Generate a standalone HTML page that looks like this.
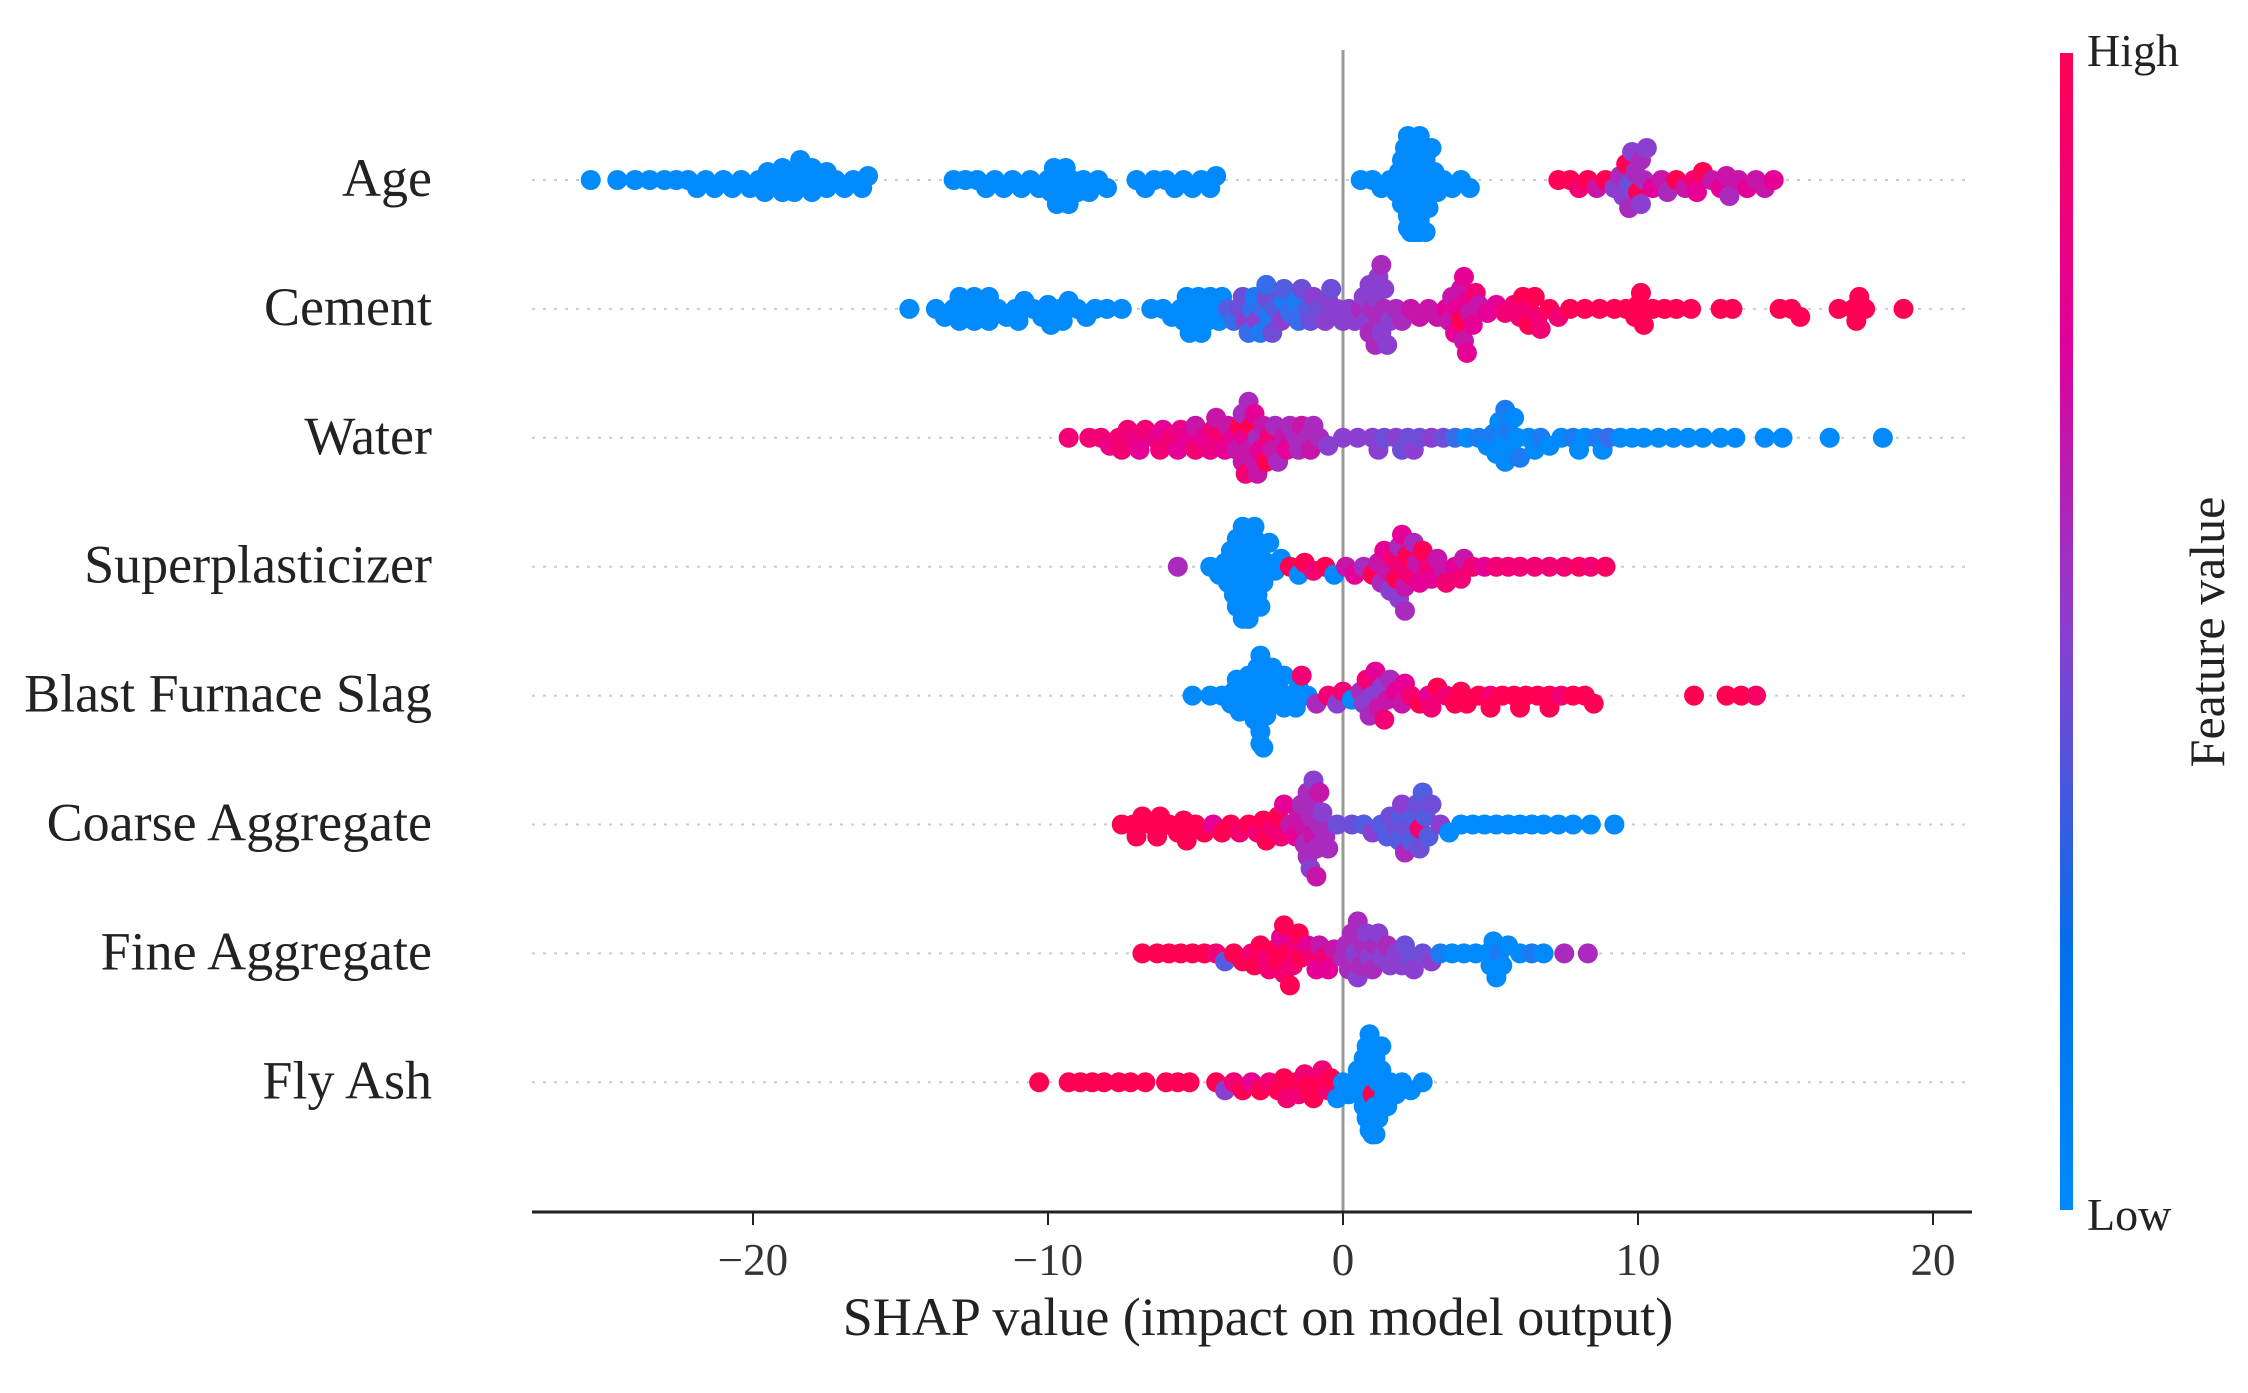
<!DOCTYPE html>
<html><head><meta charset="utf-8"><style>
html,body{margin:0;padding:0;background:#fff;}
svg{display:block;font-family:"Liberation Serif",serif;}
</style></head><body>
<svg id="chart" width="2248" height="1393" viewBox="0 0 2248 1393" xmlns="http://www.w3.org/2000/svg">
<defs><linearGradient id="cbar" x1="0" y1="1" x2="0" y2="0">
<stop offset="0" stop-color="#008afb"/><stop offset="0.22" stop-color="#0070ec"/><stop offset="0.5" stop-color="#8a3fd0"/><stop offset="0.75" stop-color="#e0009a"/><stop offset="1" stop-color="#ff0052"/></linearGradient></defs>
<g id="rows"></g>
<line x1="1343" y1="50" x2="1343" y2="1212" stroke="#999" stroke-width="3"/>
<g id="dots"></g>
<line x1="532" y1="1212" x2="1972" y2="1212" stroke="#222" stroke-width="3"/>
<g id="ticks"></g>
<text x="1258" y="1335" font-size="54" text-anchor="middle" fill="#222">SHAP value (impact on model output)</text>
<rect x="2060" y="53" width="13" height="1157" fill="url(#cbar)"/>
<text x="2087" y="66" font-size="46" fill="#222">High</text>
<text x="2087" y="1230" font-size="46" fill="#222">Low</text>
<text transform="translate(2224,632) rotate(-90)" font-size="50" text-anchor="middle" fill="#222">Feature value</text>
</svg>
<script>
const features = ["Age","Cement","Water","Superplasticizer","Blast Furnace Slag","Coarse Aggregate ","Fine Aggregate","Fly Ash"];
const tickValues = [-20,-10,0,10,20];
const tickLabels = ["\u221220","\u221210","0","10","20"];
// shap values with feature value (0 low .. 1 high), written as "shap:feat"
const ageData = "-25.5:0 -24.6:0 -24:0 -23.5:0 -23:0 -22.6:0 -22.2:0 -21.9:0 -21.6:0 -21.3:0 -21:0 -20.7:0 -20.4:0 -20.1:0 -19.8:0 -19.5:0 -19.2:0 -19:0 -18.8:0 -18.6:0 -18.4:0 -18.2:0 -18:0 -17.8:0 -17.5:0 -17.2:0 -16.9:0 -16.6:0 -16.3:0 -16.1:0 -13.2:0 -12.8:0 -12.4:0 -12.1:0 -11.8:0 -11.5:0 -11.2:0 -10.9:0 -10.6:0 -10.3:0 -10:0 -9.8:0 -9.6:0 -9.5:0 -9.4:0 -9.2:0 -9:0 -8.8:0 -8.6:0 -8.3:0 -8:0 -7:0 -6.7:0 -6.4:0 -6:0 -5.7:0 -5.4:0 -5.1:0 -4.8:0 -4.5:0 -4.3:0 0.6:0 1:0 1.3:0 1.6:0 1.8:0 2:0 2.1:0 2.2:0 2.3:0 2.3:0 2.4:0 2.4:0 2.4:0 2.5:0 2.5:0 2.5:0 2.6:0 2.6:0 2.7:0 2.8:0 2.9:0 3:0 3.2:0 3.4:0 3.7:0 4:0 4.3:0 7.3:1 7.7:1 8:0.9 8.3:1 8.6:0.7 8.9:1 9.2:0.5 9.4:0.6 9.6:1 9.7:0.4 9.8:0.5 10:1 10.1:0.6 10.3:0.5 10.5:0.8 10.8:0.7 11:0.6 11.3:1 11.6:0.7 11.9:0.9 12.2:1 12.5:0.7 12.8:0.8 13.1:0.6 13.4:0.7 13.7:0.8 14:0.7 14.3:0.7 14.6:0.8"
 + " -19:0 -18.5:0 -18:0 -17.5:0 -19.6:0 -9.7:0 -9.3:0 -9.9:0 1.9:0 2:0 2.1:0 2.2:0 2.3:0 2.4:0 2.5:0 2.6:0 2.7:0 2.8:0 2.2:0 2.4:0 2.6:0 2.5:0 2.3:0 2.9:0 3.1:0 9.5:0.5 9.9:0.6 10.1:0.5 9.7:0.6 10.2:0.6 12:0.8 13:0.7";
const cementData = "-14.7:0 -13.8:0 -13.5:0 -13.2:0 -13:0 -12.7:0 -12.5:0 -12.2:0 -12:0 -11.7:0 -11.4:0 -11.1:0 -10.8:0 -10.5:0 -10.2:0 -9.9:0 -9.6:0 -9.3:0 -9:0 -8.7:0 -8.4:0 -8:0 -7.5:0 -6.5:0 -6.1:0 -5.8:0 -5.5:0 -5.3:0 -5.1:0 -4.9:0 -4.7:0 -4.5:0 -4.3:0 -4.1:0 -3.9:0.3 -3.7:0.2 -3.5:0.4 -3.3:0.5 -3.1:0.2 -3:0.1 -2.9:0.5 -2.7:0.2 -2.6:0.4 -2.5:0.1 -2.3:0.3 -2.1:0.5 -2:0.1 -1.8:0.2 -1.6:0.1 -1.4:0.4 -1.2:0.3 -1:0.5 -0.8:0.4 -0.6:0.5 -0.4:0.4 -0.2:0.5 0:0.5 0.2:0.5 0.4:0.5 0.6:0.6 0.8:0.5 1:0.6 1.1:0.5 1.2:0.6 1.3:0.5 1.4:0.6 1.6:0.5 1.8:0.6 2:0.6 2.3:0.7 2.6:0.7 2.9:0.7 3.2:0.7 3.5:0.8 3.7:0.7 3.9:0.8 4:1 4.1:0.7 4.2:0.8 4.4:0.8 4.6:0.7 4.9:0.8 5.2:0.8 5.5:0.9 5.8:0.9 6.1:1 6.3:0.9 6.5:1 6.7:0.9 7:1 7.3:0.9 7.7:1 8.2:1 8.7:1 9.2:1 9.6:1 9.9:1 10:1 10.2:1 10.5:1 10.9:1 11.3:1 11.8:1 12.8:1 13.2:1 14.8:1 15.2:1 15.5:1 16.8:1 17.3:1 17.5:1 17.7:1 19:1"
 + " -13:0 -12.5:0 -12:0 -11:0 -10:0 -9.5:0 -5.4:0 -5:0 -4.6:0 -4.2:0 -5.2:0 -4.8:0 -3.2:0.2 -2.8:0.1 -2.4:0.4 -2:0.3 -1.5:0.2 -1.1:0.4 -2.6:0.2 -3.4:0.4 -0.5:0.5 0.7:0.5 0.9:0.6 1.1:0.6 1.2:0.5 1.3:0.6 1.5:0.5 0.9:0.5 1.4:0.5 3.8:0.8 4:0.7 4.2:0.8 4.3:0.7 4.5:0.9 3.6:0.7 4.1:0.8 6:0.9 6.3:1 6.6:0.9 10.1:1 17.4:1";
const waterData = "-9.3:0.9 -8.6:0.9 -8.2:0.9 -7.9:0.85 -7.6:0.9 -7.3:0.9 -7:0.85 -6.7:0.9 -6.4:0.85 -6.1:0.8 -5.8:0.9 -5.5:0.85 -5.2:0.8 -5:0.9 -4.7:0.8 -4.5:0.85 -4.3:0.7 -4.1:0.9 -3.9:0.7 -3.7:0.8 -3.5:1 -3.4:0.7 -3.3:0.8 -3.2:0.7 -3.1:1 -3:0.7 -2.9:0.6 -2.8:0.8 -2.6:1 -2.4:0.7 -2.2:0.6 -2:0.7 -1.8:0.6 -1.6:0.6 -1.4:0.7 -1.2:0.6 -1:0.6 -0.8:0.6 -0.5:0.5 0:0.5 0.5:0.5 1:0.5 1.4:0.4 1.8:0.5 2.2:0.4 2.6:0.4 3:0.5 3.4:0.4 3.8:0.2 4.2:0 4.6:0.1 4.9:0 5.1:0.1 5.3:0 5.5:0 5.6:0.1 5.8:0 6:0.1 6.3:0 6.7:0.1 7:0 7.4:0 7.8:0.1 8.2:0 8.6:0.1 9:0.2 9.4:0 9.8:0 10.2:0 10.7:0 11.2:0 11.7:0 12.2:0 12.8:0 13.3:0 14.3:0 14.9:0 16.5:0 18.3:0"
 + " -7.5:0.9 -6.9:0.8 -6.2:0.9 -5.6:0.8 -5:0.7 -4.4:0.9 -4:0.8 -3.6:0.7 -3.3:0.9 -3:0.8 -3.2:0.6 -2.7:0.7 -2.5:0.9 -2.3:0.6 -1.9:0.8 -1.5:0.6 -1.1:0.7 -3.4:0.6 -2.9:0.7 1.2:0.5 2:0.4 2.4:0.5 5.2:0 5.4:0 5.7:0 5.9:0 5.5:0.1 6.5:0 8:0 8.8:0";
const superData = "-5.6:0.6 -4.5:0 -4.2:0 -4:0 -3.8:0 -3.7:0 -3.6:0 -3.5:0 -3.4:0 -3.3:0 -3.3:0 -3.2:0 -3.1:0 -3:0 -2.9:0 -2.8:0 -2.7:0 -2.5:0 -2.3:0 -2.1:0 -1.8:1 -1.5:0 -1.3:1 -1:0.9 -0.6:1 -0.3:0 0.1:0.7 0.4:0.8 0.7:0.6 1:1 1.2:0.7 1.4:0.8 1.6:0.5 1.8:1 1.9:0.6 2:0.9 2.1:0.7 2.2:1 2.4:0.6 2.6:0.8 2.9:0.9 3.2:0.7 3.5:0.9 3.8:0.8 4.1:0.7 4.4:0.9 4.8:0.8 5.2:0.9 5.6:0.9 6:0.9 6.5:0.9 7:0.9 7.5:0.9 8:0.95 8.4:0.9 8.9:0.95"
 + " -3.9:0 -3.6:0 -3.4:0 -3.3:0 -3.2:0 -3.1:0 -3:0 -2.8:0 -3.5:0 -3.3:0 -3.2:0 -2.6:0 -2.9:0 -3.7:0 1.5:0.7 1.7:0.9 1.9:0.5 2:0.8 2.1:0.6 2.3:0.9 1.3:0.6 2.5:0.7 2.7:1 3:0.8 3.4:0.7 4:0.9";
const slagData = "-5.1:0 -4.5:0 -4.1:0 -3.8:0 -3.6:0 -3.4:0 -3.2:0 -3:0 -2.9:0 -2.8:0 -2.8:0 -2.7:0 -2.6:0 -2.4:0 -2.2:0 -2:0 -1.8:0 -1.6:0 -1.4:0.9 -1.2:0 -0.9:0.6 -0.5:0.9 -0.2:0.5 0:0.9 0.3:0 0.6:0.6 0.8:0.9 1:0.5 1.2:0.7 1.4:0.9 1.6:0.6 1.8:0.8 2:0.7 2.3:0.9 2.6:1 2.9:0.8 3.2:1 3.5:0.9 3.8:1 4.2:1 4.6:1 5:0.9 5.4:1 5.8:1 6.2:1 6.6:1 7:1 7.4:0.9 7.8:1 8.2:1 8.5:1 11.9:1 13:1 13.5:1 14:0.95"
 + " -3.7:0 -3.3:0 -3.1:0 -2.9:0 -2.8:0 -2.7:0 -2.5:0 -2.3:0 -3:0 -2.6:0 -3.5:0 -2:0 -1.5:0 0.9:0.6 1.1:0.8 1.3:0.5 1.5:0.7 0.7:0.5 2.1:0.8 3:0.9 4:1 5:1 6:1 7:1";
const coarseData = "-7.5:1 -7.1:1 -6.8:1 -6.5:1 -6.2:1 -5.9:1 -5.6:1 -5.3:1 -5:1 -4.7:1 -4.4:0.8 -4.1:1 -3.8:1 -3.5:0.9 -3.2:1 -2.9:0.9 -2.6:1 -2.4:0.9 -2.2:1 -2:0.8 -1.8:0.7 -1.6:0.8 -1.4:0.6 -1.3:0.7 -1.2:0.6 -1.1:0.6 -1:0.7 -0.9:0.6 -0.8:0.6 -0.7:0.5 -0.5:0.6 -0.2:0.4 0.3:0.4 0.7:0.3 1:0.5 1.3:0.3 1.6:0.4 1.9:0.3 2.1:0.6 2.3:0.3 2.5:0.4 2.6:0.9 2.8:0.3 3:0.4 3.3:0.5 3.6:0 4:0 4.4:0 4.8:0 5.2:0 5.6:0 6:0 6.4:0 6.8:0 7.3:0 7.8:0 8.4:0 9.2:0"
 + " -7:1 -6.3:1 -5.4:1 -2.7:1 -2.1:0.9 -1.5:0.7 -1.2:0.6 -1:0.6 -0.9:0.7 -1.1:0.5 -0.8:0.7 -1.3:0.6 -1:0.5 -0.6:0.6 1.8:0.4 2:0.3 2.2:0.4 2.4:0.3 2.6:0.4 2.7:0.3 2:0.5 2.9:0.3 1.5:0.3";
const fineData = "-6.8:1 -6.3:1 -5.9:1 -5.5:1 -5.1:1 -4.7:1 -4.3:0.9 -4:0.3 -3.7:1 -3.4:1 -3.1:0.9 -2.8:1 -2.5:0.9 -2.2:1 -2:0.9 -1.8:1 -1.6:0.9 -1.4:1 -1.2:0.8 -1:0.9 -0.8:0.7 -0.5:0.8 -0.3:0.7 0:0.6 0.1:0.6 0.3:0.6 0.5:0.5 0.7:0.6 0.9:0.5 1.1:0.6 1.3:0.5 1.5:0.6 1.8:0.5 2.1:0.4 2.4:0.5 2.7:0.4 3:0.5 3.3:0.1 3.7:0 4.1:0 4.5:0 4.9:0 5.1:0 5.3:0.1 5.6:0 6:0 6.4:0.1 6.8:0 7.5:0.6 8.3:0.6"
 + " -3:1 -2.6:0.9 -2.3:1 -2:1 -1.7:0.9 -1.5:1 -2.1:0.8 -1.9:1 -0.9:0.8 -0.6:0.9 0.2:0.6 0.4:0.5 0.6:0.6 0.8:0.5 1:0.6 1.2:0.5 0.5:0.6 1.6:0.5 2:0.5 2.3:0.4 5:0 5.2:0 5.4:0";
const flyData = "-10.3:1 -9.3:1 -8.9:1 -8.5:1 -8.1:1 -7.6:1 -7.2:1 -6.7:1 -6:1 -5.6:1 -5.2:1 -4.3:1 -4:0.5 -3.7:0.9 -3.4:1 -3.1:0.8 -2.8:1 -2.5:0.9 -2.2:1 -1.9:0.9 -1.6:1 -1.3:0.9 -1:1 -0.7:0.9 -0.4:1 -0.2:0 0:0 0.2:0 0.4:0 0.6:0 0.7:0 0.8:0 0.9:0 1:1 1:0 1.1:0 1.2:0 1.3:0 1.4:0 1.6:0 1.8:0 2:0 2.3:0 2.7:0"
 + " -2:1 -1.5:0.9 -1.2:1 -0.8:1 -0.5:0.9 0.5:0 0.7:0 0.8:0 0.9:0 1:0 1.1:0 1.2:0 0.8:0 1:0 0.9:0 1.1:0 1.3:0 1.5:0";
const featureData = [ageData,cementData,waterData,superData,slagData,coarseData,fineData,flyData];

const X0 = 1343, PX_PER_UNIT = 29.5, ROW0 = 180, ROW_STEP = 128.9, R = 10;
const xScale = v => X0 + v * PX_PER_UNIT;
const yRow = i => ROW0 + i * ROW_STEP;
const NS = "http://www.w3.org/2000/svg";
function mk(tag, attrs){const e=document.createElementNS(NS,tag);for(const k in attrs)e.setAttribute(k,attrs[k]);return e;}
function color(t){
  const stops=[[0,[0,138,251]],[0.5,[138,63,208]],[0.8,[230,0,150]],[1,[255,0,82]]];
  for(let i=1;i<stops.length;i++){if(t<=stops[i][0]){const a=stops[i-1],b=stops[i],f=(t-a[0])/(b[0]-a[0]);
    return "rgb("+a[1].map((c,j)=>Math.round(c+(b[1][j]-c)*f)).join(",")+")";}}
  return "rgb(255,0,82)";
}
const rowsG=document.getElementById("rows"), dotsG=document.getElementById("dots"), ticksG=document.getElementById("ticks");
features.forEach((name,i)=>{
  const y=yRow(i);
  const gl=mk("line",{x1:532,y1:y,x2:1972,y2:y,stroke:"#ccc","stroke-width":2,"stroke-dasharray":"3 8"});
  
  
  rowsG.appendChild(gl);
  const t=mk("text",{x:432,y:y+16,"font-size":54,"text-anchor":"end",fill:"#222"});
  t.textContent=name;
  
  
  rowsG.appendChild(t);
  const pts=featureData[i].split(" ").map(s=>{const p=s.split(":");return {v:+p[0],c:+p[1]};}).sort((a,b)=>a.v-b.v);
  const placed=[];
  const minD=2*R*0.55;
  pts.forEach(p=>{
    const px=xScale(p.v); let off=0;
    for(let k=0;k<40;k++){
      const o=(k%2?1:-1)*Math.ceil(k/2)*4;
      off=o;
      if(Math.abs(o)>=50) break;
      if(!placed.some(q=>Math.hypot(q.x-px,q.y-o)<minD)) break;
    }
    placed.push({x:px,y:off});
    const d=mk("circle",{cx:px,cy:y+off,r:R,fill:color(p.c)});
    
    
    dotsG.appendChild(d);
  });
});
tickValues.forEach((v,i)=>{
  const x=xScale(v);
  const tk=mk("line",{x1:x,y1:1212,x2:x,y2:1225,stroke:"#222","stroke-width":2});
  
  
  ticksG.appendChild(tk);
  const tl=mk("text",{x:x,y:1275,"font-size":45,"text-anchor":"middle",fill:"#333"});
  tl.textContent=tickLabels[i];
  
  
  ticksG.appendChild(tl);
});
</script>
</body></html>
